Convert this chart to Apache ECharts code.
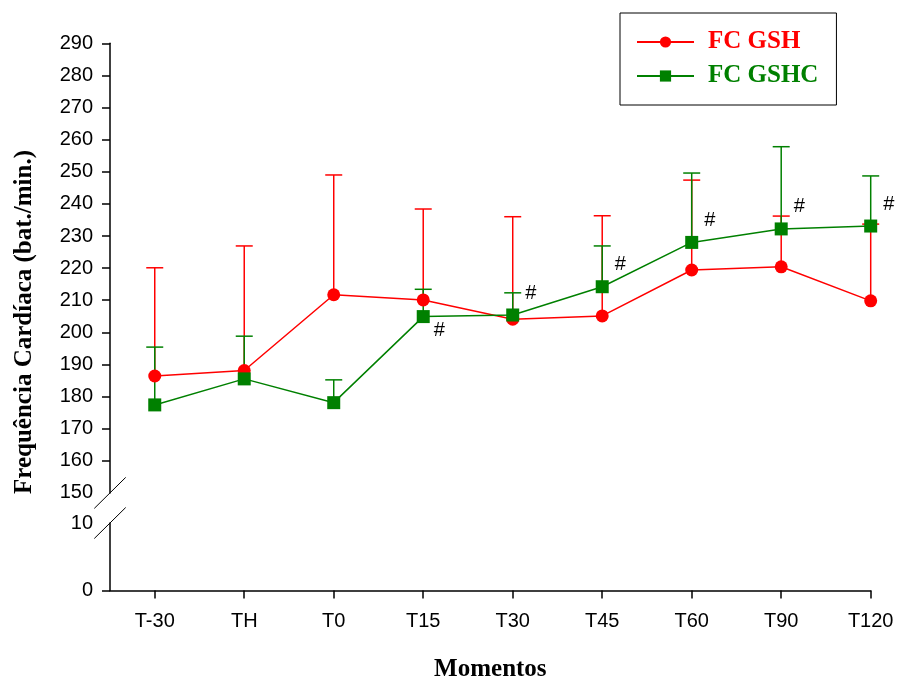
<!DOCTYPE html>
<html>
<head>
<meta charset="utf-8">
<script src="https://cdn.jsdelivr.net/npm/echarts@6/dist/echarts.min.js"></script>
<style>
  html, body { margin: 0; padding: 0; background: #fff; }
  #chart { width: 897px; height: 679px; }
</style>
</head>
<body>
<div id="chart"></div>
<script>
  // momentos
  const cats = ['T-30', 'TH', 'T0', 'T15', 'T30', 'T45', 'T60', 'T90', 'T120']
  // FC GSH: media e limite superior (media + DP)
  const gshMean = [186.4, 188.1, 211.7, 210.1, 204.1, 205.1, 219.4, 220.4, 209.8]
  const gshTop = [220.1, 226.9, 249.0, 238.4, 236.0, 236.3, 247.4, 236.2, 233.7]
  // FC GSHC
  const gshcMean = [177.4, 185.5, 178.1, 204.9, 205.4, 214.2, 228.0, 232.2, 233.1]
  const gshcTop = [195.4, 198.8, 185.2, 213.4, 212.3, 226.9, 249.6, 257.8, 248.7]
  const gshcMarks = ['', '', '', '#', '#', '#', '#', '#', '#']
  const upperTicks = [160, 170, 180, 190, 200, 210, 220, 230, 240, 250, 260, 270, 280, 290]
  const lowerTicks = [0]

  const RED = '#ff0000'
  const GREEN = '#008000'
  const sans = '"Liberation Sans", Arial, sans-serif'
  const serif = '"Liberation Serif", "Times New Roman", serif'
  const catIdx = cats.map((c, i) => i)

  const chart = echarts.init(document.getElementById('chart'))

  function errBar(color) {
    return function(params, api) {
      const lo = api.coord([api.value(0), api.value(1)])
      const hi = api.coord([api.value(0), api.value(2)])
      return {
        type: 'group',
        children: [{
          type: 'line',
          shape: { x1: lo[0], y1: lo[1], x2: hi[0], y2: hi[1] },
          style: { stroke: color, lineWidth: 1.5 }
        }, {
          type: 'line',
          shape: { x1: hi[0] - 8.5, y1: hi[1], x2: hi[0] + 8.5, y2: hi[1] },
          style: { stroke: color, lineWidth: 1.5 }
        }]
      }
    }
  }

  const axisLine = { show: true, onZero: false, lineStyle: { color: '#000', width: 1.5 } }

  chart.setOption({
    animation: false,
    backgroundColor: '#fff',
    grid: [
      { left: 110, top: 43.3, right: 26.3, bottom: 186.1, outerBoundsMode: 'none', containLabel: false },
      { left: 110, top: 523, right: 26.3, bottom: 88.5, outerBoundsMode: 'none', containLabel: false }
    ],
    xAxis: [{
      gridIndex: 0,
      type: 'value',
      min: -0.5,
      max: 8,
      show: false
    }, {
      gridIndex: 1,
      type: 'value',
      min: -0.5,
      max: 8,
      splitLine: { show: false },
      axisLine: axisLine,
      axisTick: { show: true, length: 8, customValues: catIdx, lineStyle: { color: '#000', width: 1.5 } },
      axisLabel: {
        customValues: catIdx,
        formatter: v => cats[v],
        color: '#000',
        fontFamily: sans,
        fontSize: 20,
        margin: 21
      },
      name: 'Momentos',
      nameLocation: 'middle',
      nameGap: 67,
      nameTextStyle: { fontFamily: serif, fontWeight: 'bold', fontSize: 25, color: '#000' }
    }],
    yAxis: [{
      gridIndex: 0,
      type: 'value',
      min: 150,
      max: 290,
      interval: 10,
      splitLine: { show: false },
      axisLine: axisLine,
      axisTick: { show: true, length: 8, customValues: upperTicks, lineStyle: { color: '#000', width: 1.5 } },
      axisLabel: { color: '#000', fontFamily: sans, fontSize: 20, margin: 17 }
    }, {
      gridIndex: 1,
      type: 'value',
      min: 0,
      max: 10,
      interval: 10,
      splitLine: { show: false },
      axisLine: axisLine,
      axisTick: { show: true, length: 8, customValues: lowerTicks, lineStyle: { color: '#000', width: 1.5 } },
      axisLabel: { color: '#000', fontFamily: sans, fontSize: 20, margin: 17 }
    }],
    legend: {
      orient: 'vertical',
      left: 620,
      top: 13,
      padding: [16, 18, 16, 16],
      borderColor: '#000',
      borderWidth: 1,
      itemWidth: 57,
      itemHeight: 14,
      itemGap: 8,
      data: [
        { name: 'FC GSH', textStyle: { color: RED } },
        { name: 'FC GSHC', textStyle: { color: GREEN } }
      ],
      textStyle: { fontFamily: serif, fontWeight: 'bold', fontSize: 25, lineHeight: 26, padding: [0, 0, 0, 9] }
    },
    series: [{
      name: 'dp GSH',
      type: 'custom',
      xAxisIndex: 0,
      yAxisIndex: 0,
      renderItem: errBar(RED),
      data: catIdx.map(i => [i, gshMean[i], gshTop[i]])
    }, {
      name: 'FC GSH',
      type: 'line',
      xAxisIndex: 0,
      yAxisIndex: 0,
      symbol: 'circle',
      symbolSize: 13,
      color: RED,
      lineStyle: { width: 1.5, color: RED },
      itemStyle: { color: RED },
      data: catIdx.map(i => [i, gshMean[i]])
    }, {
      name: 'dp GSHC',
      type: 'custom',
      xAxisIndex: 0,
      yAxisIndex: 0,
      renderItem: errBar(GREEN),
      data: catIdx.map(i => [i, gshcMean[i], gshcTop[i]])
    }, {
      name: 'FC GSHC',
      type: 'line',
      xAxisIndex: 0,
      yAxisIndex: 0,
      symbol: 'rect',
      symbolSize: 13,
      color: GREEN,
      lineStyle: { width: 1.5, color: GREEN },
      itemStyle: { color: GREEN },
      data: catIdx.map(i => ({
        value: [i, gshcMean[i]],
        label: {
          show: gshcMarks[i] !== '',
          formatter: gshcMarks[i],
          position: 'inside',
          offset: i === 3 ? [16, 14] : [18, -22],
          color: '#000',
          fontFamily: sans,
          fontSize: 20
        }
      }))
    }]
  })

  // quebra do eixo y
  const pTop = chart.convertToPixel({ gridIndex: 0 }, [-0.5, 150])
  const pBot = chart.convertToPixel({ gridIndex: 1 }, [-0.5, 10])
  const slash = p => ({
    type: 'line',
    shape: { x1: p[0] - 15.7, y1: p[1] + 15.5, x2: p[0] + 15.7, y2: p[1] - 15.5 },
    style: { stroke: '#000', lineWidth: 1 }
  })
  chart.setOption({
    graphic: [slash(pTop), slash(pBot), {
      type: 'text',
      x: 25,
      y: 322,
      rotation: Math.PI / 2,
      style: {
        text: 'Frequência Cardíaca (bat./min.)',
        font: 'bold 25px ' + serif,
        fill: '#000',
        textAlign: 'center',
        textVerticalAlign: 'middle'
      }
    }]
  })
</script>
</body>
</html>
